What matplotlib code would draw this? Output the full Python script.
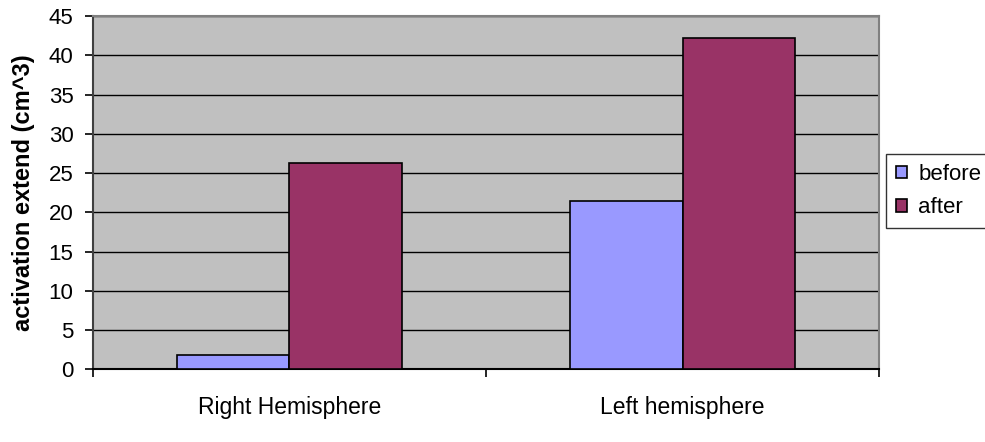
import matplotlib
matplotlib.use("Agg")
import matplotlib.pyplot as plt
import numpy as np

plt.rcParams['font.family'] = ['Liberation Sans', 'DejaVu Sans']

categories = ['Right Hemisphere', 'Left hemisphere']
before = [1.8, 21.4]
after = [26.3, 42.2]
y_ticks = [0, 5, 10, 15, 20, 25, 30, 35, 40, 45]

fig = plt.figure(figsize=(9.85, 4.42), dpi=100)
ax = fig.add_axes([0.0944, 0.1645, 0.798, 0.7993])
ax.set_facecolor('#C0C0C0')

x = np.arange(len(categories))
w = 1 / 3.5
ax.bar(x - w / 2, before, w, color='#9999FF', edgecolor='black', linewidth=1.2, label='before', zorder=3)
ax.bar(x + w / 2, after, w, color='#993366', edgecolor='black', linewidth=1.2, label='after', zorder=3)

ax.set_xlim(-0.5, len(categories) - 0.5)
ax.set_ylim(0, 45)
ax.set_yticks(y_ticks)
ax.yaxis.grid(True, color='black', linewidth=1, zorder=1)
ax.set_axisbelow(True)

# category ticks sit between groups, labels centred under groups
ax.set_xticks(np.arange(-0.5, len(categories), 1.0))
ax.set_xticklabels([])
ax.set_xticks(x, minor=True)
ax.set_xticklabels(categories, minor=True, fontsize=16.5)
ax.tick_params(axis='x', which='minor', length=0, pad=19)
ax.tick_params(axis='x', which='major', length=6, width=1.2, color='black', direction='out')
ax.tick_params(axis='y', length=6, width=1.2, labelsize=16, pad=8)

for s in ['top', 'right']:
    ax.spines[s].set_color('#808080')
    ax.spines[s].set_linewidth(1.5)
ax.spines['left'].set_color('#404040')
ax.spines['left'].set_linewidth(1.5)
ax.spines['bottom'].set_color('black')
ax.spines['bottom'].set_linewidth(1.5)

ax.set_ylabel('activation extend (cm^3)', fontsize=17, fontweight='bold', labelpad=10)

leg = fig.legend(loc='upper left', bbox_to_anchor=(0.8995, 0.6516), fontsize=16,
                 frameon=True, fancybox=False, edgecolor='black', handlelength=0.5,
                 handleheight=0.5, handletextpad=0.5, borderpad=0.45, labelspacing=0.55,
                 borderaxespad=0)
leg.get_frame().set_linewidth(1)

fig.savefig('out.png', dpi=100)
